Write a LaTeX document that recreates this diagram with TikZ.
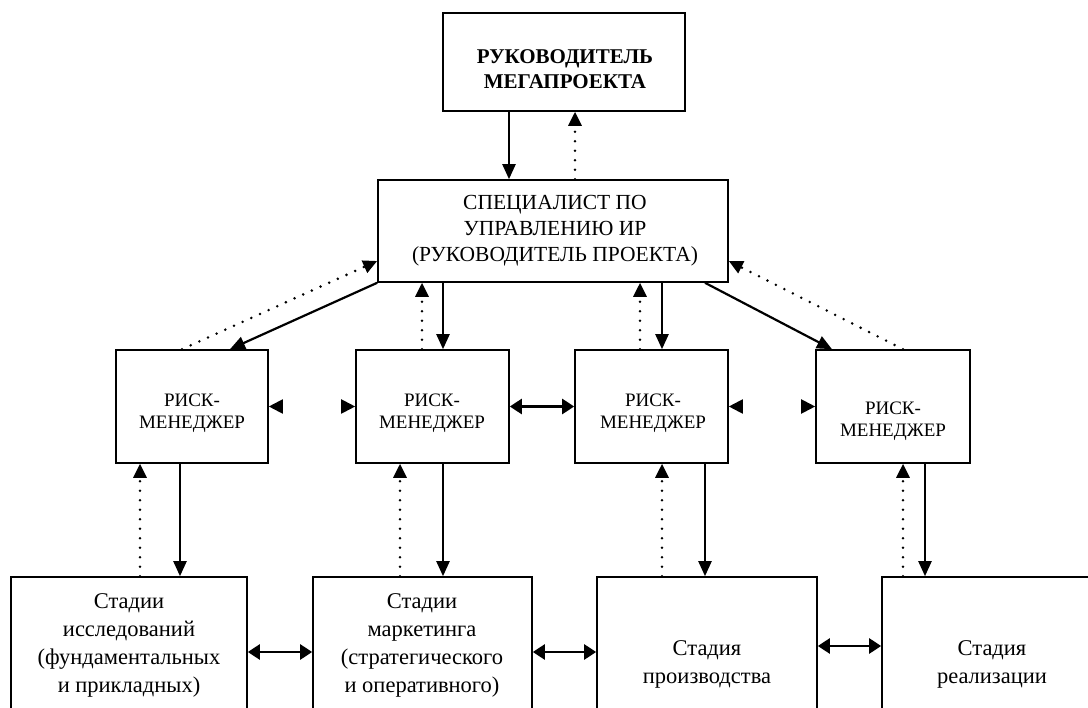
\documentclass[tikz,border=0pt]{standalone}
\usepackage{fontspec}
\setmainfont{Liberation Serif}
\usetikzlibrary{arrows.meta}
\begin{document}
\begin{tikzpicture}[x=1pt,y=-1pt,
  box/.style={draw, line width=1.6pt, inner sep=0pt},
  sa/.style={line width=2.2pt, -{Triangle[length=15pt,width=13pt]}},
  da/.style={line width=2.8pt, dash pattern=on 0pt off 9.5pt, line cap=round, -{Triangle[length=14pt,width=13pt]}},
  dbl/.style={line width=2.4pt, {Triangle[length=12pt,width=15pt]}-{Triangle[length=12pt,width=15pt]}},
  tiponly/.style={line width=2pt, -{Triangle[length=14pt,width=14pt]}},
  toptext/.style={align=center, font=\bfseries\fontsize{21}{25}\selectfont},
  spectext/.style={align=center, font=\fontsize{21.5}{26}\selectfont},
  rmtext/.style={align=center, font=\fontsize{19}{22}\selectfont},
  stext/.style={align=center, font=\fontsize{22.5}{28}\selectfont}
]
\useasboundingbox (0,0) rectangle (1088,708);
\clip (0,0) rectangle (1088,708);

% boxes
\node[box, minimum width=242pt, minimum height=98pt] (top) at (564,62) {};
\node[toptext] (topt) at (565,69) {РУКОВОДИТЕЛЬ\\МЕГАПРОЕКТА};

\node[box, minimum width=350pt, minimum height=102pt] (spec) at (553,231) {};
\node[spectext] (spect) at (555,231) {СПЕЦИАЛИСТ ПО\\УПРАВЛЕНИЮ ИР\\(РУКОВОДИТЕЛЬ ПРОЕКТА)};

\node[box, minimum width=152pt, minimum height=113pt] (rm1) at (192,406.5) {};
\node[box, minimum width=153pt, minimum height=113pt] (rm2) at (432.5,406.5) {};
\node[box, minimum width=153pt, minimum height=113pt] (rm3) at (651.5,406.5) {};
\node[box, minimum width=154pt, minimum height=113pt] (rm4) at (893,406.5) {};
\node[rmtext] (rm1t) at (192,413.5) {РИСК-\\МЕНЕДЖЕР};
\node[rmtext] (rm2t) at (432,413.5) {РИСК-\\МЕНЕДЖЕР};
\node[rmtext] (rm3t) at (653,413.5) {РИСК-\\МЕНЕДЖЕР};
\node[rmtext] (rm4t) at (893,421) {РИСК-\\МЕНЕДЖЕР};

\node[box, minimum width=236pt, minimum height=160pt] (s1) at (129,657) {};
\node[box, minimum width=219pt, minimum height=160pt] (s2) at (422.5,657) {};
\node[box, minimum width=220pt, minimum height=160pt] (s3) at (707,657) {};
\node[box, minimum width=220pt, minimum height=160pt] (s4) at (992,657) {};
\node[stext] (s1t) at (129,645) {Стадии\\исследований\\(фундаментальных\\и прикладных)};
\node[stext] (s2t) at (422,645) {Стадии\\маркетинга\\(стратегического\\и оперативного)};
\node[stext] (s3t) at (707,664.5) {Стадия\\производства};
\node[stext] (s4t) at (992,664.5) {Стадия\\реализации};

% top <-> specialist
\draw[sa] (top.south -| 509,0) -- (spec.north -| 509,0);
\draw[da] (spec.north -| 575,0) -- (top.south -| 575,0);

% specialist <-> risk managers
\draw[sa] (spec.south west) -- (rm1.north -| 230,0);
\draw[da] (rm1.north -| 182,0) -- (spec.west |- 0,261);
\draw[da] (rm2.north -| 422,0) -- (spec.south -| 422,0);
\draw[sa] (spec.south -| 443,0) -- (rm2.north -| 443,0);
\draw[da] (rm3.north -| 640,0) -- (spec.south -| 640,0);
\draw[sa] (spec.south -| 662,0) -- (rm3.north -| 662,0);
\draw[sa] (spec.south -| 705,0) -- (rm4.north -| 832,0);
\draw[da] (rm4.north -| 903,0) -- (spec.east |- 0,261);

% risk managers horizontal
\draw[tiponly] ([xshift=14pt]rm1.east) -- (rm1.east);
\draw[tiponly] ([xshift=-14pt]rm2.west) -- (rm2.west);
\draw[dbl] (rm2.east) -- (rm3.west);
\draw[tiponly] ([xshift=14pt]rm3.east) -- (rm3.east);
\draw[tiponly] ([xshift=-14pt]rm4.west) -- (rm4.west);

% risk managers <-> stages
\draw[da] (s1.north -| 140,0) -- (rm1.south -| 140,0);
\draw[sa] (rm1.south -| 180,0) -- (s1.north -| 180,0);
\draw[da] (s2.north -| 400,0) -- (rm2.south -| 400,0);
\draw[sa] (rm2.south -| 443,0) -- (s2.north -| 443,0);
\draw[da] (s3.north -| 662,0) -- (rm3.south -| 662,0);
\draw[sa] (rm3.south -| 705,0) -- (s3.north -| 705,0);
\draw[da] (s4.north -| 903,0) -- (rm4.south -| 903,0);
\draw[sa] (rm4.south -| 925,0) -- (s4.north -| 925,0);

% stages horizontal
\draw[dbl] (s1.east |- 0,652) -- (s2.west |- 0,652);
\draw[dbl] (s2.east |- 0,652) -- (s3.west |- 0,652);
\draw[dbl] (s3.east |- 0,646) -- (s4.west |- 0,646);
\end{tikzpicture}
\end{document}
